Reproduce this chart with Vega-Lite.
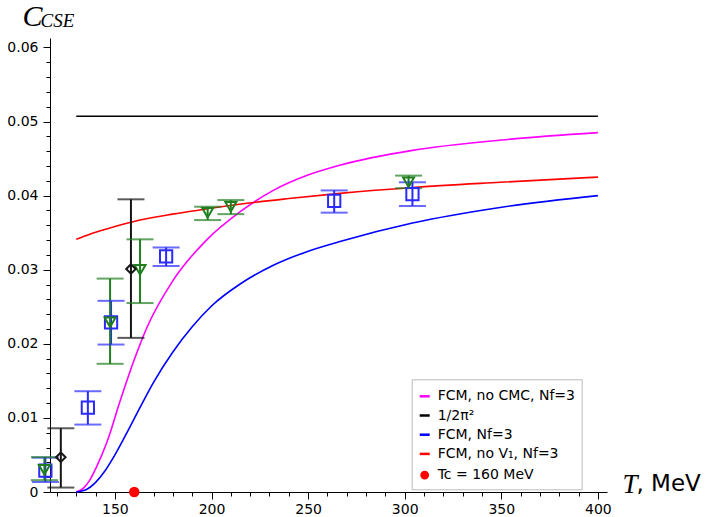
{
  "$schema": "https://vega.github.io/schema/vega-lite/v6.json",
  "width": 557,
  "height": 454,
  "autosize": {"type": "none"},
  "padding": {"left": 50, "top": 38, "right": 101, "bottom": 25},
  "background": "white",
  "config": {
    "view": {"stroke": null},
    "axis": {"grid": false, "domainColor": "#000", "tickColor": "#000", "labelColor": "#000", "labelFont": "DejaVu Sans", "labelFontSize": 14, "titleColor": "#000", "labelFlush": false, "labelOverlap": false}
  },
  "datasets": {
    "curves": [
      {"s": "1/2π²", "T": 130, "C": 0.0507},
      {"s": "1/2π²", "T": 400, "C": 0.0507},
      {"s": "FCM, no CMC, Nf=3", "T": 130, "C": 0.0},
      {"s": "FCM, no CMC, Nf=3", "T": 133.6, "C": 0.0005},
      {"s": "FCM, no CMC, Nf=3", "T": 137, "C": 0.0016},
      {"s": "FCM, no CMC, Nf=3", "T": 140.5, "C": 0.0034},
      {"s": "FCM, no CMC, Nf=3", "T": 145.7, "C": 0.0066},
      {"s": "FCM, no CMC, Nf=3", "T": 152.6, "C": 0.0122},
      {"s": "FCM, no CMC, Nf=3", "T": 159.8, "C": 0.0177},
      {"s": "FCM, no CMC, Nf=3", "T": 166.4, "C": 0.0221},
      {"s": "FCM, no CMC, Nf=3", "T": 180.2, "C": 0.0286},
      {"s": "FCM, no CMC, Nf=3", "T": 197.4, "C": 0.034},
      {"s": "FCM, no CMC, Nf=3", "T": 214.7, "C": 0.0378},
      {"s": "FCM, no CMC, Nf=3", "T": 232, "C": 0.0407},
      {"s": "FCM, no CMC, Nf=3", "T": 249.2, "C": 0.0427},
      {"s": "FCM, no CMC, Nf=3", "T": 266.5, "C": 0.0441},
      {"s": "FCM, no CMC, Nf=3", "T": 304, "C": 0.0461},
      {"s": "FCM, no CMC, Nf=3", "T": 350, "C": 0.0475},
      {"s": "FCM, no CMC, Nf=3", "T": 400, "C": 0.0485},
      {"s": "FCM, Nf=3", "T": 130, "C": 0.0},
      {"s": "FCM, Nf=3", "T": 135, "C": 0.0003},
      {"s": "FCM, Nf=3", "T": 140, "C": 0.0013},
      {"s": "FCM, Nf=3", "T": 145, "C": 0.0029},
      {"s": "FCM, Nf=3", "T": 150, "C": 0.005},
      {"s": "FCM, Nf=3", "T": 155, "C": 0.0074},
      {"s": "FCM, Nf=3", "T": 160, "C": 0.0099},
      {"s": "FCM, Nf=3", "T": 165, "C": 0.0124},
      {"s": "FCM, Nf=3", "T": 170, "C": 0.0148},
      {"s": "FCM, Nf=3", "T": 180, "C": 0.0189},
      {"s": "FCM, Nf=3", "T": 190, "C": 0.0223},
      {"s": "FCM, Nf=3", "T": 200, "C": 0.0251},
      {"s": "FCM, Nf=3", "T": 215, "C": 0.0281},
      {"s": "FCM, Nf=3", "T": 232, "C": 0.0306},
      {"s": "FCM, Nf=3", "T": 249, "C": 0.0324},
      {"s": "FCM, Nf=3", "T": 266.5, "C": 0.0338},
      {"s": "FCM, Nf=3", "T": 304, "C": 0.0363},
      {"s": "FCM, Nf=3", "T": 349.3, "C": 0.0384},
      {"s": "FCM, Nf=3", "T": 400, "C": 0.04},
      {"s": "FCM, no V₁, Nf=3", "T": 130, "C": 0.0341},
      {"s": "FCM, no V₁, Nf=3", "T": 137, "C": 0.0348},
      {"s": "FCM, no V₁, Nf=3", "T": 145.7, "C": 0.0355},
      {"s": "FCM, no V₁, Nf=3", "T": 163, "C": 0.0367},
      {"s": "FCM, no V₁, Nf=3", "T": 180, "C": 0.0375},
      {"s": "FCM, no V₁, Nf=3", "T": 192.3, "C": 0.038},
      {"s": "FCM, no V₁, Nf=3", "T": 216.4, "C": 0.0389},
      {"s": "FCM, no V₁, Nf=3", "T": 240, "C": 0.0396},
      {"s": "FCM, no V₁, Nf=3", "T": 266.5, "C": 0.0403},
      {"s": "FCM, no V₁, Nf=3", "T": 304, "C": 0.0411},
      {"s": "FCM, no V₁, Nf=3", "T": 349.3, "C": 0.0418},
      {"s": "FCM, no V₁, Nf=3", "T": 400, "C": 0.0425}
    ],
    "pts": [
      {"g": "blue", "T": 114, "C": 0.0029, "lo": 0.00135, "hi": 0.00464},
      {"g": "blue", "T": 136, "C": 0.0114, "lo": 0.0091, "hi": 0.0136},
      {"g": "blue", "T": 148, "C": 0.0229, "lo": 0.0199, "hi": 0.0258},
      {"g": "blue", "T": 176.5, "C": 0.0318, "lo": 0.0305, "hi": 0.033},
      {"g": "blue", "T": 263.5, "C": 0.0393, "lo": 0.0377, "hi": 0.0407},
      {"g": "blue", "T": 304, "C": 0.0402, "lo": 0.0386, "hi": 0.0418},
      {"g": "green", "T": 113.5, "C": 0.003, "lo": 0.0016, "hi": 0.0047},
      {"g": "green", "T": 147.5, "C": 0.0229, "lo": 0.0173, "hi": 0.0288},
      {"g": "green", "T": 163, "C": 0.03, "lo": 0.0255, "hi": 0.0341},
      {"g": "green", "T": 198, "C": 0.0377, "lo": 0.0367, "hi": 0.0385},
      {"g": "green", "T": 210, "C": 0.0385, "lo": 0.0375, "hi": 0.0394},
      {"g": "green", "T": 302, "C": 0.0418, "lo": 0.041, "hi": 0.0427},
      {"g": "black", "T": 122, "C": 0.0047, "lo": 0.0006, "hi": 0.0086},
      {"g": "black", "T": 158.3, "C": 0.0301, "lo": 0.0208, "hi": 0.0395}
    ],
    "tc": [{"s": "Tc = 160 MeV", "T": 160, "C": 0}]
  },
  "resolve": {"axis": {"x": "independent", "y": "independent"}},
  "layer": [
    {
      "data": {"name": "curves"},
      "mark": {"type": "line", "strokeWidth": 1.6, "interpolate": "monotone"},
      "encoding": {
        "x": {"field": "T", "type": "quantitative", "scale": {"domain": [116.4, 404.7], "nice": false, "zero": false},
          "axis": {"orient": "bottom", "values": [150, 200, 250, 300, 350, 400], "tickSize": 7, "labelPadding": 3, "title": "T", "titleFont": "Liberation Serif", "titleFontStyle": "italic", "titleFontWeight": "normal", "titleFontSize": 27, "titleX": 572, "titleY": 0, "titleAlign": "left", "titleBaseline": "alphabetic", "titleAngle": 0}},
        "y": {"field": "C", "type": "quantitative", "scale": {"domain": [0, 0.06127], "nice": false, "zero": false},
          "axis": {"orient": "left", "values": [0, 0.01, 0.02, 0.03, 0.04, 0.05, 0.06], "labelExpr": "datum.value == 0 ? '0' : format(datum.value, '.2f')", "tickSize": 7, "labelPadding": 5, "title": "C", "titleFont": "Liberation Serif", "titleFontStyle": "italic", "titleFontWeight": "normal", "titleFontSize": 30, "titleAngle": 0, "titleX": -28, "titleY": -13, "titleAlign": "left", "titleBaseline": "alphabetic"}},
        "color": {"field": "s", "type": "nominal",
          "scale": {"domain": ["FCM, no CMC, Nf=3", "1/2π²", "FCM, Nf=3", "FCM, no V₁, Nf=3", "Tc = 160 MeV"], "range": ["#ff00ff", "#000000", "#0000ff", "#ff0000", "#ff0000"]},
          "legend": {"orient": "none", "legendX": 361.7, "legendY": 341.3, "title": " ", "titleFontSize": 2, "titlePadding": 2, "fillColor": "white", "strokeColor": "#bbbbbb", "padding": 6, "labelFont": "DejaVu Sans", "labelFontSize": 14, "labelColor": "#000", "symbolSize": 100, "symbolStrokeWidth": 2.5, "rowPadding": 5.2, "labelOffset": 6, "labelLimit": 300,
            "encode": {"symbols": {"update": {"stroke": {"scale": "color", "field": "value"}, "size": {"signal": "datum.value === 'Tc = 160 MeV' ? 40 : 100"}}}}}}
      }
    },
    {
      "data": {"name": "pts"},
      "mark": {"type": "rule", "strokeWidth": 2},
      "encoding": {
        "x": {"field": "T", "type": "quantitative",
          "axis": {"orient": "bottom", "values": [120, 130, 140, 160, 170, 180, 190, 210, 220, 230, 240, 260, 270, 280, 290, 310, 320, 330, 340, 360, 370, 380, 390], "labels": false, "domain": false, "tickSize": 4, "title": ", MeV", "titleFont": "DejaVu Sans", "titleFontSize": 23, "titleFontWeight": "normal", "titleX": 586, "titleY": -2, "titleAlign": "left", "titleBaseline": "alphabetic", "titleAngle": 0}},
        "y": {"field": "lo", "type": "quantitative",
          "axis": {"orient": "left", "values": [0.002, 0.004, 0.006, 0.008, 0.012, 0.014, 0.016, 0.018, 0.022, 0.024, 0.026, 0.028, 0.032, 0.034, 0.036, 0.038, 0.042, 0.044, 0.046, 0.048, 0.052, 0.054, 0.056, 0.058], "labels": false, "domain": false, "tickSize": 4, "title": "CSE", "titleFont": "Liberation Serif", "titleFontStyle": "italic", "titleFontWeight": "normal", "titleFontSize": 19, "titleAngle": 0, "titleX": -10, "titleY": -12, "titleAlign": "left", "titleBaseline": "alphabetic"}},
        "y2": {"field": "hi"},
        "stroke": {"field": "g", "type": "nominal", "scale": {"domain": ["black", "blue", "green"], "range": ["#151515", "#2b2bff", "#1f7f1f"]}, "legend": null}
      }
    },
    {
      "data": {"name": "pts"},
      "mark": {"type": "tick", "orient": "horizontal", "size": 27, "thickness": 2},
      "encoding": {
        "x": {"field": "T", "type": "quantitative", "axis": null},
        "y": {"field": "lo", "type": "quantitative", "axis": null},
        "fill": {"field": "g", "type": "nominal", "scale": {"domain": ["black", "blue", "green"], "range": ["#151515", "#2b2bff", "#1f7f1f"]}, "legend": null}
      }
    },
    {
      "data": {"name": "pts"},
      "mark": {"type": "tick", "orient": "horizontal", "size": 27, "thickness": 2},
      "encoding": {
        "x": {"field": "T", "type": "quantitative", "axis": null},
        "y": {"field": "hi", "type": "quantitative", "axis": null},
        "fill": {"field": "g", "type": "nominal", "legend": null}
      }
    },
    {
      "data": {"name": "pts"},
      "transform": [{"filter": "datum.g == 'blue'"}],
      "mark": {"type": "point", "shape": "square", "filled": false, "strokeWidth": 2, "size": 150, "color": "#2b2bff", "opacity": 1},
      "encoding": {
        "x": {"field": "T", "type": "quantitative", "axis": null},
        "y": {"field": "C", "type": "quantitative", "axis": null}
      }
    },
    {
      "data": {"name": "pts"},
      "transform": [{"filter": "datum.g == 'green'"}],
      "mark": {"type": "point", "shape": "triangle-down", "filled": false, "strokeWidth": 2, "size": 120, "color": "#1f7f1f", "opacity": 1},
      "encoding": {
        "x": {"field": "T", "type": "quantitative", "axis": null},
        "y": {"field": "C", "type": "quantitative", "axis": null}
      }
    },
    {
      "data": {"name": "pts"},
      "transform": [{"filter": "datum.g == 'black'"}],
      "mark": {"type": "point", "shape": "diamond", "filled": false, "strokeWidth": 2, "size": 90, "color": "#151515", "opacity": 1},
      "encoding": {
        "x": {"field": "T", "type": "quantitative", "axis": null},
        "y": {"field": "C", "type": "quantitative", "axis": null}
      }
    },
    {
      "data": {"name": "tc"},
      "mark": {"type": "point", "filled": true, "size": 110, "opacity": 1},
      "encoding": {
        "x": {"field": "T", "type": "quantitative", "axis": null},
        "y": {"field": "C", "type": "quantitative", "axis": null},
        "color": {"field": "s", "type": "nominal"},
        "shape": {"field": "s", "type": "nominal",
          "scale": {"domain": ["FCM, no CMC, Nf=3", "1/2π²", "FCM, Nf=3", "FCM, no V₁, Nf=3", "Tc = 160 MeV"], "range": ["stroke", "stroke", "stroke", "stroke", "circle"]},
          "legend": {"orient": "none", "legendX": 361.7, "legendY": 341.3, "title": " ", "titleFontSize": 2, "titlePadding": 2, "fillColor": "white", "strokeColor": "#bbbbbb", "padding": 6, "labelFont": "DejaVu Sans", "labelFontSize": 14, "labelColor": "#000", "symbolSize": 100, "symbolStrokeWidth": 2.5, "rowPadding": 5.2, "labelOffset": 6, "labelLimit": 300,
            "encode": {"symbols": {"update": {"stroke": {"scale": "color", "field": "value"}, "size": {"signal": "datum.value === 'Tc = 160 MeV' ? 40 : 100"}}}}}}
      }
    }
  ]
}
